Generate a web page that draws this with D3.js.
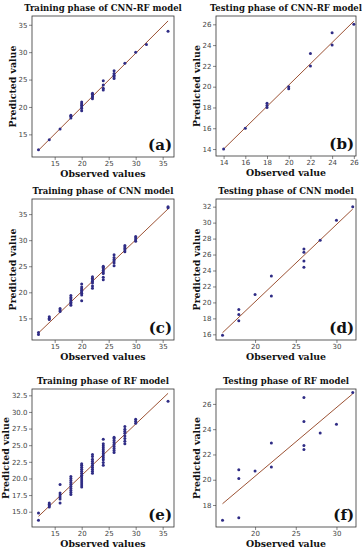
<!DOCTYPE html>
<html>
<head>
<meta charset="utf-8">
<script src="https://cdn.jsdelivr.net/npm/d3@7"></script>
<style>
  body { margin: 0; background: #fff; }
  svg { display: block; }
  .tick text { font-family: "DejaVu Sans", sans-serif; font-size: 7px; fill: #444; }
  .tick line { stroke: #555; stroke-width: 0.7; }
  .domain { display: none; }
  .ptitle { font-family: "DejaVu Serif", serif; font-weight: bold; font-size: 8.5px; fill: #111; }
  .alabel { font-family: "DejaVu Serif", serif; font-weight: bold; font-size: 9.4px; fill: #111; }
  .letter { font-family: "DejaVu Serif", serif; font-weight: bold; font-size: 15px; fill: #111; }
</style>
</head>
<body>
<svg id="chart"></svg>
<script>
const W = 362, H = 550;

// (a) Training phase of CNN-RF
const aObs  = [12, 14, 16, 18, 18, 18, 20, 20, 20, 20, 20, 20, 22, 22, 22, 22, 22, 24, 24, 24, 24, 26, 26, 26, 26, 26, 28, 30, 32, 36];
const aPred = [12.2, 14.0, 16.0, 18.0, 18.3, 18.5, 19.3, 19.7, 20.0, 20.3, 20.6, 20.9, 21.5, 21.8, 22.0, 22.3, 22.5, 23.1, 23.4, 24.0, 24.8, 25.2, 25.5, 25.8, 26.1, 26.6, 28.0, 30.0, 31.4, 33.8];
const aFit  = [[12, 12.1], [36, 35.7]];

// (b) Testing phase of CNN-RF
const bObs  = [14, 16, 18, 18, 18, 20, 20, 22, 22, 24, 24, 26];
const bPred = [14.0, 16.0, 18.0, 18.2, 18.4, 19.8, 20.0, 22.0, 23.2, 24.0, 25.2, 26.0];
const bFit  = [[14, 14.0], [26, 26.3]];

// (c) Training phase of CNN
const cObs  = [12, 12, 14, 14, 14, 16, 16, 16, 18, 18, 18, 18, 18, 18, 18,
               20, 20, 20, 20, 20, 20, 20, 20, 22, 22, 22, 22, 22, 22, 22,
               24, 24, 24, 24, 24, 24, 24, 24, 26, 26, 26, 26, 26, 26,
               28, 28, 28, 28, 28, 30, 30, 30, 30, 36, 36];
const cPred = [11.9, 12.3, 14.8, 15.0, 15.3, 16.3, 16.6, 16.9, 17.5, 17.8, 18.1, 18.4, 18.7, 19.0, 19.4,
               18.4, 19.5, 19.8, 20.1, 20.4, 20.7, 21.0, 21.6, 20.8, 21.2, 21.8, 22.1, 22.4, 22.7, 23.0,
               22.4, 22.9, 23.6, 23.9, 24.2, 24.5, 24.8, 25.0, 25.1, 25.6, 26.0, 26.3, 26.7, 27.2,
               27.8, 28.1, 28.4, 28.7, 29.0, 29.8, 30.1, 30.4, 30.7, 36.2, 36.4];
const cFit  = [[12, 12.2], [36, 36.0]];

// (d) Testing phase of CNN
const dObs  = [16, 18, 18, 18, 20, 22, 22, 26, 26, 26, 26, 28, 30, 32];
const dPred = [15.9, 17.7, 18.5, 19.1, 21.0, 20.8, 23.3, 24.4, 25.2, 26.3, 26.7, 27.8, 30.3, 32.0];
const dFit  = [[16, 16.2], [32, 31.7]];

// (e) Training phase of RF
const eObs  = [12, 12, 14, 14, 14, 14, 16, 16, 16, 16, 16, 16,
               18, 18, 18, 18, 18, 18, 18, 18, 18, 18,
               20, 20, 20, 20, 20, 20, 20, 20, 20, 20, 20, 20, 20,
               22, 22, 22, 22, 22, 22, 22, 22, 22, 22,
               24, 24, 24, 24, 24, 24, 24, 24, 24, 24, 24, 24,
               26, 26, 26, 26, 26, 26, 26, 26, 26,
               28, 28, 28, 28, 28, 28, 28, 28, 30, 30, 30, 36];
const ePred = [13.7, 14.8, 15.7, 15.9, 16.1, 16.3, 16.3, 16.9, 17.2, 17.5, 17.8, 19.1,
               17.6, 17.9, 18.2, 18.5, 18.8, 19.1, 19.4, 19.7, 20.0, 20.3,
               18.7, 19.0, 19.3, 19.6, 19.9, 20.2, 20.5, 20.8, 21.1, 21.4, 21.7, 22.0, 22.2,
               20.8, 21.1, 21.4, 21.7, 22.0, 22.3, 22.6, 22.9, 23.3, 23.6,
               22.0, 22.4, 22.8, 23.1, 23.4, 23.7, 24.0, 24.3, 24.6, 24.9, 25.2, 25.9,
               23.9, 24.2, 24.5, 24.8, 25.1, 25.4, 25.7, 26.0, 26.2,
               25.2, 25.6, 26.0, 26.4, 26.8, 27.1, 27.4, 27.8, 28.3, 28.6, 28.9, 31.6];
const eFit  = [[12, 14.3], [36, 32.8]];

// (f) Testing phase of RF
const fObs  = [16, 18, 18, 18, 20, 22, 22, 26, 26, 26, 26, 28, 30, 32];
const fPred = [16.8, 17.0, 20.1, 20.8, 20.7, 21.0, 22.9, 22.4, 22.7, 24.6, 26.5, 23.7, 24.4, 26.9];
const fFit  = [[16, 18.1], [32, 26.8]];

// titles, labels, ticks
const titles  = ['Training phase of CNN-RF model', 'Testing phase of CNN-RF model',
                 'Training phase of CNN model', 'Testing phase of CNN model',
                 'Training phase of RF model', 'Testing phase of RF model'];
const letters = ['(a)', '(b)', '(c)', '(d)', '(e)', '(f)'];
const xLabels = ['Observed values', 'Observed value', 'Observed values', 'Observed value', 'Observed values', 'Observed value'];
const xTicks = [
  [15, 20, 25, 30, 35], [14, 16, 18, 20, 22, 24, 26], [15, 20, 25, 30, 35],
  [20, 25, 30], [15, 20, 25, 30, 35], [20, 25, 30]
];
const yTicks = [
  [15, 20, 25, 30, 35], [14, 16, 18, 20, 22, 24, 26], [15, 20, 25, 30, 35],
  [16, 18, 20, 22, 24, 26, 28, 30, 32], [15, 17.5, 20, 22.5, 25, 27.5, 30, 32.5], [18, 20, 22, 24, 26]
];
const yFormats = ['d', 'd', 'd', 'd', '.1f', 'd'];

const panels = [
  { obs: aObs, pred: aPred, fit: aFit, box: [32, 16, 174, 157], xd: [10.8, 37.1], yd: [10.87, 36.6] },
  { obs: bObs, pred: bPred, fit: bFit, box: [216, 16, 356, 156], xd: [13.3, 26.2], yd: [13.33, 26.8] },
  { obs: cObs, pred: cPred, fit: cFit, box: [32, 199, 174, 340], xd: [10.8, 37.1], yd: [10.85, 37.9] },
  { obs: dObs, pred: dPred, fit: dFit, box: [216, 199, 356, 340], xd: [15.2, 32.4], yd: [15.29, 32.96] },
  { obs: eObs, pred: ePred, fit: eFit, box: [32, 389, 174, 527], xd: [10.8, 37.1], yd: [12.7, 33.45] },
  { obs: fObs, pred: fPred, fit: fFit, box: [216, 389, 356, 527], xd: [15.2, 32.4], yd: [16.26, 27.18] }
];

const svg = d3.select('#chart').attr('width', W).attr('height', H);

panels.forEach((p, i) => {
  const [x0, y0, x1, y1] = p.box;
  const x = d3.scaleLinear().domain(p.xd).range([x0, x1]);
  const y = d3.scaleLinear().domain(p.yd).range([y1, y0]);
  const g = svg.append('g');

  g.append('g').attr('transform', `translate(0,${y1})`)
    .call(d3.axisBottom(x).tickValues(xTicks[i]).tickSize(3).tickPadding(1.5).tickFormat(d3.format('d')));
  const yAxis = g.append('g').attr('transform', `translate(${x0},0)`)
    .call(d3.axisLeft(y).tickValues(yTicks[i]).tickSize(3).tickPadding(1.5).tickFormat(d3.format(yFormats[i])));

  // fit line
  g.append('line')
    .attr('x1', x(p.fit[0][0])).attr('y1', y(p.fit[0][1]))
    .attr('x2', x(p.fit[1][0])).attr('y2', y(p.fit[1][1]))
    .attr('stroke', '#9c5234').attr('stroke-width', 1);

  // points
  g.append('g').selectAll('circle')
    .data(p.obs.map((o, k) => [o, p.pred[k]]))
    .join('circle')
    .attr('cx', d => x(d[0])).attr('cy', d => y(d[1]))
    .attr('r', 1.5).attr('fill', '#2f2c85');

  // frame
  g.append('rect')
    .attr('x', x0).attr('y', y0).attr('width', x1 - x0).attr('height', y1 - y0)
    .attr('fill', 'none').attr('stroke', '#333').attr('stroke-width', 0.8);

  g.append('text').attr('class', 'ptitle')
    .attr('x', (x0 + x1) / 2).attr('y', y0 - 5).attr('text-anchor', 'middle')
    .text(titles[i]);

  g.append('text').attr('class', 'alabel')
    .attr('x', (x0 + x1) / 2).attr('y', y1 + 20).attr('text-anchor', 'middle')
    .text(xLabels[i]);

  const yb = yAxis.node().getBBox();
  g.append('text').attr('class', 'alabel')
    .attr('transform', `translate(${x0 + yb.x - 3},${(y0 + y1) / 2}) rotate(-90)`)
    .attr('text-anchor', 'middle')
    .text('Predicted value');

  g.append('text').attr('class', 'letter')
    .attr('x', x1 - 2).attr('y', y1 - 7).attr('text-anchor', 'end')
    .text(letters[i]);
});
</script>
</body>
</html>
